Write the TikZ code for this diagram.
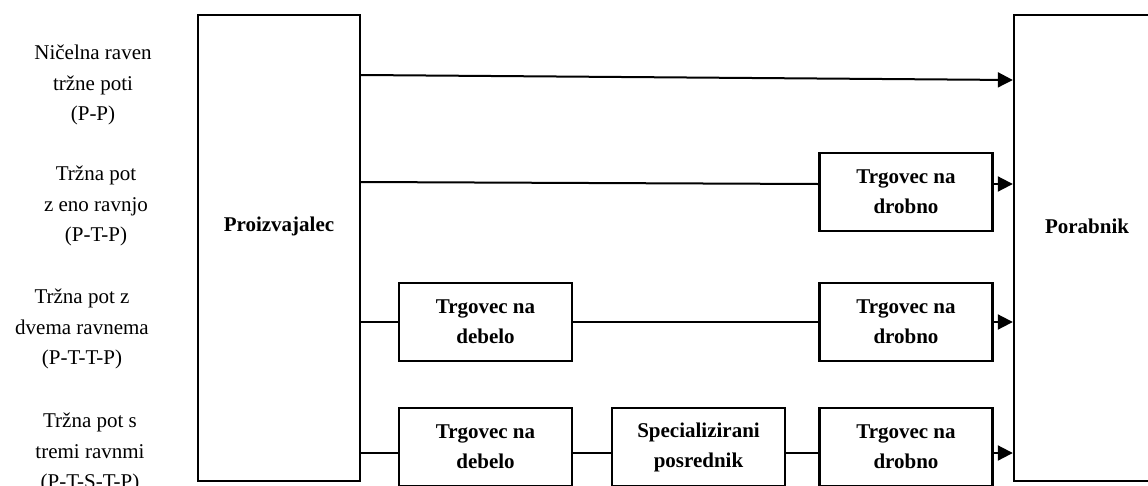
\documentclass[tikz,border=0pt]{standalone}
\usepackage{fontspec}
\setmainfont{Liberation Serif}
\usetikzlibrary{arrows.meta}
\begin{document}
\begin{tikzpicture}[x=1pt,y=-1pt,
  lbl/.style={font=\fontsize{21}{30.5}\selectfont, align=center, inner sep=0pt},
  box/.style={draw, line width=2.4pt, inner sep=0pt, minimum width=173pt,
    minimum height=78pt, align=center, font=\fontsize{21}{30}\selectfont\bfseries},
  tall/.style={draw, line width=2.4pt, inner sep=0pt, minimum height=466pt},
  tallname/.style={font=\fontsize{21}{30}\selectfont\bfseries, yshift=22pt},
  link/.style={line width=2pt},
  flow/.style={line width=2pt, -{Triangle[length=15pt,width=15pt]}}]
\clip (0,0) rectangle (1148,485);

% producer and consumer
\node[tall, minimum width=162pt, label={[tallname]center:Proizvajalec}] (prod) at (279,248) {};
\node[tall, minimum width=146pt, label={[tallname]center:Porabnik}] (cons) at (1087,248) {};

% intermediaries
\node[box] (ret1) at (906,192) {Trgovec na\\drobno};
\node[box] (wh1)  at (485.5,322) {Trgovec na\\debelo};
\node[box] (ret2) at (906,322) {Trgovec na\\drobno};
\node[box] (wh2)  at (485.5,447) {Trgovec na\\debelo};
\node[box] (spec) at (698.5,447) {Specializirani\\posrednik};
\node[box] (ret3) at (906,447) {Trgovec na\\drobno};

% channel levels
\node[lbl] (l1) at (93,85)  {Ničelna raven\\tržne poti\\(P-P)};
\node[lbl] (l2) at (96,206) {Tržna pot\\z eno ravnjo\\(P-T-P)};
\node[lbl] (l3) at (82,329) {Tržna pot z\\dvema ravnema\\(P-T-T-P)};
\node[lbl] (l4) at (90,453) {Tržna pot s\\tremi ravnmi\\(P-T-S-T-P)};

% row heights of the connectors
\coordinate (r1a) at (0,75);
\coordinate (r1b) at (0,80);
\coordinate (r2a) at (0,182);
\coordinate (r2b) at (0,184);
\coordinate (r4)  at (0,453);

% P-P
\draw[flow] (prod.east |- r1a) -- (cons.west |- r1b);
% P-T-P
\draw[link] (prod.east |- r2a) -- (ret1.west |- r2b);
\draw[flow] (ret1.east |- r2b) -- (cons.west |- r2b);
% P-T-T-P
\draw[link] (prod.east |- wh1.west) -- (wh1.west);
\draw[link] (wh1.east) -- (ret2.west);
\draw[flow] (ret2.east) -- (cons.west |- ret2.east);
% P-T-S-T-P
\draw[link] (prod.east |- r4) -- (wh2.west |- r4);
\draw[link] (wh2.east |- r4) -- (spec.west |- r4);
\draw[link] (spec.east |- r4) -- (ret3.west |- r4);
\draw[flow] (ret3.east |- r4) -- (cons.west |- r4);
\end{tikzpicture}
\end{document}
